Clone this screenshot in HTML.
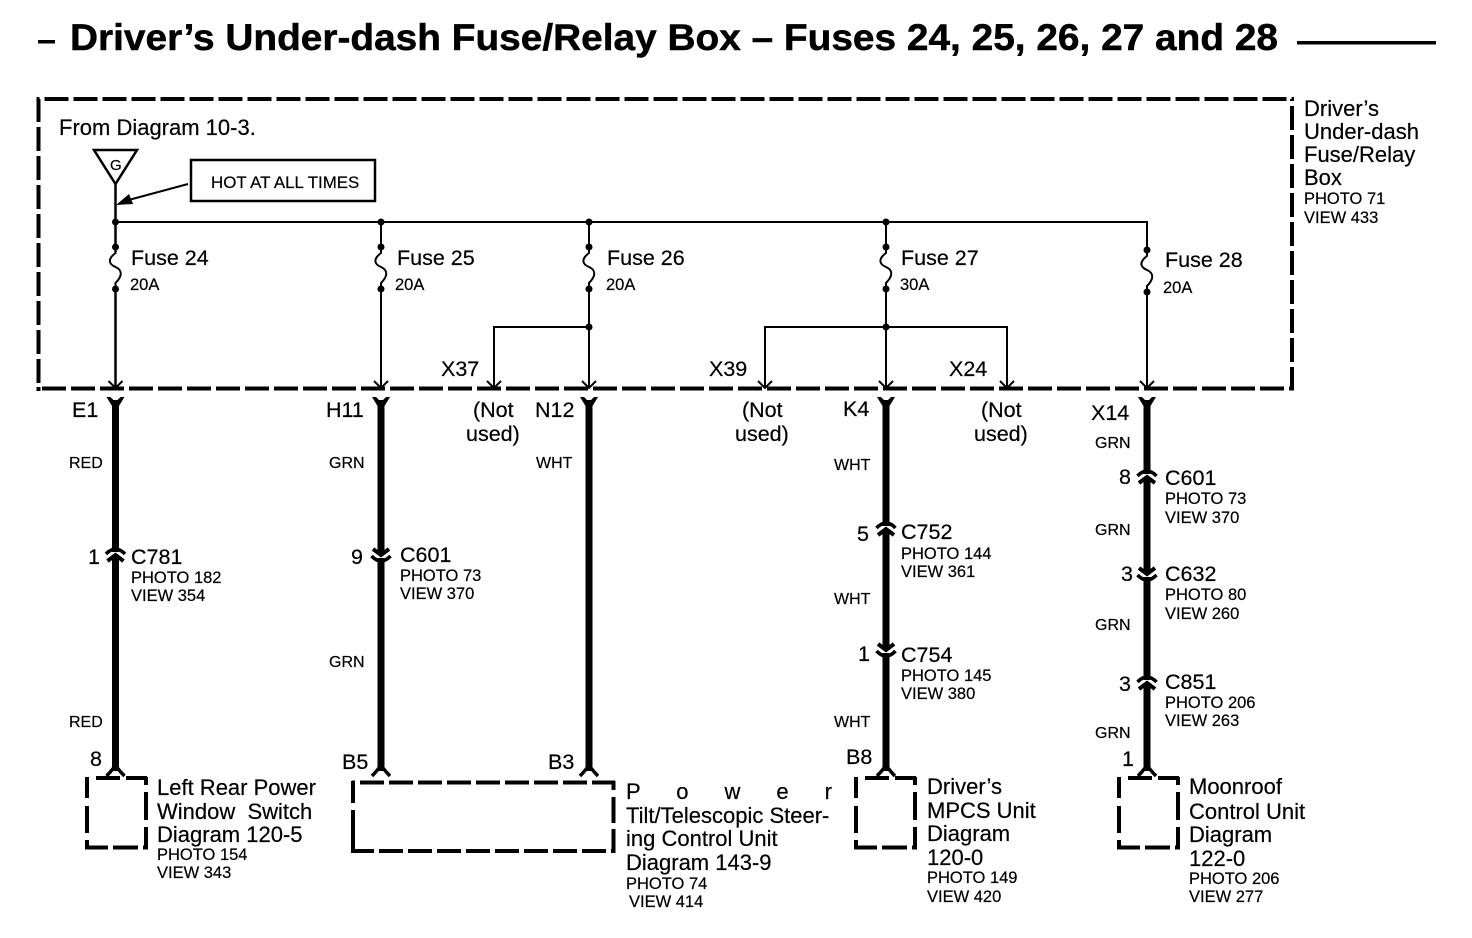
<!DOCTYPE html>
<html><head><meta charset="utf-8"><style>
html,body{margin:0;padding:0;background:#fff;width:1472px;height:938px;overflow:hidden}
svg{display:block}
text{font-family:"Liberation Sans",sans-serif;fill:#000;stroke:#000;stroke-width:.2}
.l{font-size:21.5px}
.m{font-size:22px}
.s{font-size:16.5px}
.w{font-size:16px}
.n{fill:none;stroke:#000}
</style></head><body>
<svg width="1472" height="938" viewBox="0 0 1472 938" xmlns="http://www.w3.org/2000/svg">
<defs>
<g id="arr"><path class="n" stroke-width="2" d="M-7 -7L0 0L7 -7"/></g>
<g id="top"><path d="M-9 0L-5 0L0 5L5 0L9 0L3.5 9L3.5 14L-3.5 14L-3.5 9Z"/></g>
<g id="bot"><path class="n" stroke-width="3.5" d="M-9 5Q-5 1 -2 -3M9 5Q5 1 2 -3"/><rect x="-3.5" y="-8" width="7" height="8"/></g>
<g id="up"><path d="M-11 4H11V-1H-11Z" fill="#fff"/><path class="n" stroke-width="3.5" d="M-9.500 1Q0 -9 9.500 1"/><path class="n" stroke-width="4" d="M-8 8L0 2L8 8"/></g>
<g id="dn"><path d="M-11 -4H11V1H-11Z" fill="#fff"/><path class="n" stroke-width="3.5" d="M-9.500 -1Q0 9 9.500 -1"/><path class="n" stroke-width="4" d="M-8 -8L0 -2L8 -8"/></g>
<g id="fuse"><circle cx="0" cy="0" r="3.500"/><circle cx="0" cy="42" r="3.500"/><path class="n" stroke-width="2" d="M0 0V6C-8 12 -7 17 0 20C7 23 7 29 0 36V42"/></g>
<g id="box"><path class="n" stroke-width="4" d="M0 -1V20M0 28V55M0 62V71M9 0H33M39 0H60M59 -1V7M59 14V42M59 49V71M-2 69.500H21M26 69.500H51M56 69.500H61"/></g>
</defs>

<!-- title -->
<rect x="38" y="40" width="17" height="3.500"/>
<text x="70" y="50" font-size="37" font-weight="bold" textLength="1208" lengthAdjust="spacingAndGlyphs" style="stroke-width:.5">Driver’s Under-dash Fuse/Relay Box – Fuses 24, 25, 26, 27 and 28</text>
<rect x="1297" y="41" width="139" height="3.500"/>

<!-- frame -->
<g class="n" fill="none" stroke="#000" stroke-width="4" stroke-dasharray="24 5">
<path stroke-dashoffset="21" d="M36.500 99H1294"/>
<path stroke-dashoffset="25" d="M38 388.500H1294"/>
<path stroke-dashoffset="1" d="M38.500 99V388"/>
<path stroke-dashoffset="22" d="M1292 99V390"/>
</g>
<rect x="36.500" y="387" width="4" height="4"/>
<text class="m" x="59" y="135">From Diagram 10-3.</text>
<path class="n" stroke-width="2.500" d="M94 150H137L115.500 184Z"/>
<text x="110" y="170" font-size="15">G</text>
<rect x="191" y="160" width="184" height="41" class="n" stroke-width="2.500"/>
<text x="211" y="188" font-size="16.900">HOT AT ALL TIMES</text>
<path class="n" stroke-width="2" d="M188 184L125 201"/>
<path d="M116 205L129 194L133 204Z"/>
<text class="m" x="1304" y="116">Driver’s</text>
<text class="m" x="1304" y="139">Under-dash</text>
<text class="m" x="1304" y="162">Fuse/Relay</text>
<text class="m" x="1304" y="185">Box</text>
<text class="s" x="1304" y="204">PHOTO 71</text>
<text class="s" x="1304" y="223">VIEW 433</text>

<!-- internal wiring -->
<path class="n" stroke-width="2.500" d="M115.500 184V388"/>
<path class="n" stroke-width="2" d="M115 222H1147V388M381 222V388M589 222V388M886 222V388M589 327H494V388M886 327H765V388M886 327H1007V388"/>
<g>
<circle cx="115.500" cy="222" r="3.500"/><circle cx="381" cy="222" r="3.500"/><circle cx="589" cy="222" r="3.500"/><circle cx="886" cy="222" r="3.500"/>
<circle cx="589" cy="327" r="3.500"/><circle cx="886" cy="327" r="3.500"/>
</g>
<rect x="108" y="252" width="14" height="34" fill="#fff"/><rect x="374" y="252" width="14" height="34" fill="#fff"/><rect x="582" y="252" width="14" height="34" fill="#fff"/><rect x="879" y="252" width="14" height="34" fill="#fff"/><rect x="1140" y="255" width="14" height="34" fill="#fff"/>
<use href="#fuse" x="115.500" y="247"/><use href="#fuse" x="381" y="247"/><use href="#fuse" x="589" y="247"/><use href="#fuse" x="886" y="247"/><use href="#fuse" x="1147" y="250"/>
<text class="l" x="131" y="265">Fuse 24</text><text class="s" x="130" y="290">20A</text>
<text class="l" x="397" y="265">Fuse 25</text><text class="s" x="395" y="290">20A</text>
<text class="l" x="607" y="265">Fuse 26</text><text class="s" x="606" y="290">20A</text>
<text class="l" x="901" y="265">Fuse 27</text><text class="s" x="900" y="290">30A</text>
<text class="l" x="1165" y="267">Fuse 28</text><text class="s" x="1163" y="293">20A</text>
<text class="l" x="441" y="376">X37</text><text class="l" x="709" y="376">X39</text><text class="l" x="949" y="376">X24</text>
<use href="#arr" x="115.500" y="388"/><use href="#arr" x="381" y="388"/><use href="#arr" x="494" y="388"/><use href="#arr" x="589" y="388"/><use href="#arr" x="765" y="388"/><use href="#arr" x="886" y="388"/><use href="#arr" x="1007" y="388"/><use href="#arr" x="1147" y="388"/>

<!-- thick wires -->
<g>
<rect x="112" y="400" width="7" height="366"/><rect x="377.500" y="400" width="7" height="366"/><rect x="585.500" y="400" width="7" height="366"/><rect x="882.500" y="400" width="7" height="366"/><rect x="1143.500" y="400" width="7" height="366"/>
</g>
<use href="#top" x="115.500" y="397"/><use href="#top" x="381" y="397"/><use href="#top" x="589" y="397"/><use href="#top" x="886" y="397"/><use href="#top" x="1147" y="397"/>
<use href="#bot" x="115.500" y="771"/><use href="#bot" x="381" y="771"/><use href="#bot" x="589" y="771"/><use href="#bot" x="886" y="771"/><use href="#bot" x="1147" y="771"/>

<!-- pin labels -->
<text class="l" x="72" y="417">E1</text><text class="l" x="326" y="417">H11</text><text class="l" x="535" y="417">N12</text><text class="l" x="843" y="416">K4</text><text class="l" x="1091" y="420">X14</text>
<text class="l" x="473" y="417">(Not</text><text class="l" x="466" y="441">used)</text>
<text class="l" x="742" y="417">(Not</text><text class="l" x="735" y="441">used)</text>
<text class="l" x="981" y="417">(Not</text><text class="l" x="974" y="441">used)</text>

<!-- wire colours -->
<text class="w" x="69" y="468">RED</text><text class="w" x="69" y="727">RED</text>
<text class="w" x="329" y="468">GRN</text><text class="w" x="329" y="667">GRN</text>
<text class="w" x="536" y="468">WHT</text>
<text class="w" x="834" y="470">WHT</text><text class="w" x="834" y="604">WHT</text><text class="w" x="834" y="727">WHT</text>
<text class="w" x="1095" y="448">GRN</text><text class="w" x="1095" y="535">GRN</text><text class="w" x="1095" y="630">GRN</text><text class="w" x="1095" y="738">GRN</text>

<!-- inline connectors -->
<use href="#up" x="115.500" y="553"/>
<text class="l" x="88" y="564">1</text><text class="l" x="131" y="564">C781</text><text class="s" x="131" y="583">PHOTO 182</text><text class="s" x="131" y="601">VIEW 354</text>
<use href="#dn" x="381" y="557"/>
<text class="l" x="351" y="564">9</text><text class="l" x="400" y="562">C601</text><text class="s" x="400" y="581">PHOTO 73</text><text class="s" x="400" y="599">VIEW 370</text>
<use href="#up" x="886" y="527"/>
<text class="l" x="857" y="541">5</text><text class="l" x="901" y="539">C752</text><text class="s" x="901" y="559">PHOTO 144</text><text class="s" x="901" y="577">VIEW 361</text>
<use href="#dn" x="886" y="652"/>
<text class="l" x="858" y="661">1</text><text class="l" x="901" y="662">C754</text><text class="s" x="901" y="681">PHOTO 145</text><text class="s" x="901" y="699">VIEW 380</text>
<use href="#up" x="1147" y="475"/>
<text class="l" x="1119" y="484">8</text><text class="l" x="1165" y="485">C601</text><text class="s" x="1165" y="504">PHOTO 73</text><text class="s" x="1165" y="523">VIEW 370</text>
<use href="#dn" x="1147" y="576"/>
<text class="l" x="1121" y="581">3</text><text class="l" x="1165" y="581">C632</text><text class="s" x="1165" y="600">PHOTO 80</text><text class="s" x="1165" y="619">VIEW 260</text>
<use href="#up" x="1147" y="681"/>
<text class="l" x="1119" y="691">3</text><text class="l" x="1165" y="689">C851</text><text class="s" x="1165" y="708">PHOTO 206</text><text class="s" x="1165" y="726">VIEW 263</text>

<!-- bottom pins -->
<text class="l" x="90" y="766">8</text><text class="l" x="342" y="769">B5</text><text class="l" x="548" y="769">B3</text><text class="l" x="846" y="764">B8</text><text class="l" x="1122" y="766">1</text>

<!-- component boxes -->
<use href="#box" x="87" y="778"/>
<use href="#box" x="856" y="778"/>
<use href="#box" x="1119" y="778"/>
<g class="n" fill="none" stroke="#000" stroke-width="4">
<path stroke-dasharray="24 5" stroke-dashoffset="21" d="M352 782.500H615"/>
<path stroke-dasharray="24 5" stroke-dashoffset="1" d="M351 851H615"/>
<path d="M353 781V803M353 810V849M613.500 781V790M613.500 797V823M613.500 829V853"/>
</g>

<text class="m" x="157" y="795">Left Rear Power</text>
<text class="m" x="157" y="819">Window&#160; Switch</text>
<text class="m" x="157" y="842">Diagram 120-5</text>
<text class="s" x="157" y="860">PHOTO 154</text>
<text class="s" x="157" y="878">VIEW 343</text>

<text class="m" x="626" y="799" textLength="206" lengthAdjust="spacing">P o w e r</text>
<text class="m" x="626" y="823">Tilt/Telescopic Steer-</text>
<text class="m" x="626" y="846">ing Control Unit</text>
<text class="m" x="626" y="870">Diagram 143-9</text>
<text class="s" x="626" y="889">PHOTO 74</text>
<text class="s" x="629" y="907">VIEW 414</text>

<text class="m" x="927" y="794">Driver’s</text>
<text class="m" x="927" y="818">MPCS Unit</text>
<text class="m" x="927" y="841">Diagram</text>
<text class="m" x="927" y="865">120-0</text>
<text class="s" x="927" y="883">PHOTO 149</text>
<text class="s" x="927" y="902">VIEW 420</text>

<text class="m" x="1189" y="794">Moonroof</text>
<text class="m" x="1189" y="819">Control Unit</text>
<text class="m" x="1189" y="842">Diagram</text>
<text class="m" x="1189" y="866">122-0</text>
<text class="s" x="1189" y="884">PHOTO 206</text>
<text class="s" x="1189" y="902">VIEW 277</text>
</svg>
</body></html>
